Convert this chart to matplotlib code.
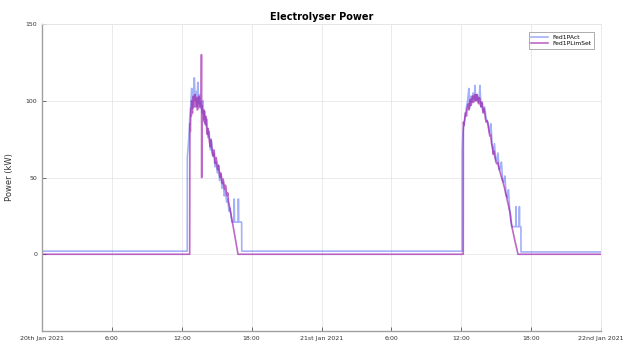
import matplotlib
matplotlib.use("Agg")
import matplotlib.pyplot as plt

# hours since 20th Jan 2021 00:00
act_hours = [0, 12.47, 12.48, 12.6, 12.7, 12.78, 12.85, 12.92, 13.0, 13.08, 13.15,
             13.22, 13.3, 13.38, 13.45, 13.52, 13.6, 13.68, 13.75, 13.82, 13.9,
             13.98, 14.05, 14.15, 14.25, 14.35, 14.45, 14.55, 14.65, 14.75, 14.85,
             14.95, 15.05, 15.15, 15.25, 15.35, 15.45, 15.55, 15.65, 15.75, 15.85,
             15.95, 16.05, 16.15, 16.25, 16.3, 16.48, 16.5, 16.53, 16.84, 16.86,
             16.89, 17.14, 17.15,
             36.08, 36.09, 36.15, 36.25, 36.35, 36.45, 36.55, 36.65, 36.7, 36.8,
             36.9, 37.0, 37.1, 37.18, 37.25, 37.35, 37.45, 37.55, 37.6, 37.7,
             37.8, 37.9, 38.0, 38.15, 38.3, 38.45, 38.55, 38.65, 38.75, 38.85,
             38.95, 39.05, 39.15, 39.25, 39.35, 39.45, 39.55, 39.65, 39.75, 39.85,
             39.95, 40.05, 40.15, 40.25, 40.33, 40.68, 40.7, 40.72, 40.97, 40.99,
             41.01, 41.12, 41.13, 48]
act_kw = [2, 2, 63, 75, 90, 98, 108, 95, 105, 115, 100,
          106, 96, 112, 98, 104, 95, 99, 92, 100, 88,
          93, 84, 88, 76, 80, 68, 74, 64, 66, 57,
          60, 53, 58, 48, 52, 43, 47, 38, 41, 34,
          36, 28, 30, 24, 21, 21, 36, 21, 21, 36,
          21, 21, 2,
          2, 69, 80, 86, 91, 96, 100, 108, 95, 103,
          99, 105, 101, 110, 100, 104, 99, 103, 110, 96,
          99, 93, 96, 88, 86, 79, 85, 70, 66, 72,
          62, 61, 66, 55, 56, 60, 48, 47, 51, 38,
          37, 42, 30, 25, 18, 18, 31, 18, 18, 31,
          18, 18, 1.5, 1.5]

limset_hours = [0, 12.68, 12.7, 12.74, 12.78, 12.82, 12.85, 12.88, 12.92, 12.96,
                13.0, 13.04, 13.08, 13.12, 13.15, 13.19, 13.22, 13.26, 13.3, 13.34,
                13.38, 13.42, 13.45, 13.49, 13.52, 13.56, 13.6, 13.67, 13.69, 13.71,
                13.73, 13.78, 13.82, 13.86, 13.9, 13.95, 14.0, 14.05, 14.1, 14.15,
                14.2, 14.25, 14.3, 14.38, 14.45, 14.5, 14.55, 14.62, 14.7, 14.75,
                14.8, 14.85, 14.9, 14.95, 15.0, 15.05, 15.1, 15.15, 15.2, 15.25,
                15.3, 15.35, 15.4, 15.45, 15.5, 15.55, 15.6, 15.65, 15.7, 15.75,
                15.8, 15.85, 15.9, 15.95, 16.0, 16.05, 16.1, 16.15, 16.2, 16.3,
                16.55, 16.83,
                36.17, 36.18, 36.24, 36.3, 36.35, 36.4, 36.45, 36.5, 36.55, 36.6,
                36.65, 36.7, 36.75, 36.8, 36.85, 36.9, 36.95, 37.0, 37.05, 37.1,
                37.15, 37.2, 37.25, 37.3, 37.35, 37.4, 37.45, 37.5, 37.55, 37.6,
                37.65, 37.7, 37.75, 37.8, 37.85, 37.9, 37.95, 38.0, 38.08, 38.15,
                38.22, 38.3, 38.38, 38.45, 38.52, 38.6, 38.68, 38.75, 38.82, 38.9,
                38.98, 39.05, 39.12, 39.2, 39.28, 39.35, 39.42, 39.5, 39.58, 39.65,
                39.72, 39.8, 39.88, 39.95, 40.02, 40.1, 40.18, 40.25, 40.4, 40.6,
                40.87, 48]
limset_kw = [0, 0, 85, 80, 95, 90, 100, 94, 92, 98,
             103, 97, 96, 102, 104, 96, 97, 102, 101, 94,
             95, 101, 103, 96, 98, 102, 100, 96, 130, 50,
             97, 90, 92, 87, 94, 86, 85, 90, 87, 80,
             78, 82, 80, 73, 70, 75, 72, 66, 64, 68,
             66, 60, 59, 63, 61, 56, 55, 58, 56, 51,
             50, 53, 51, 47, 46, 49, 47, 43, 42, 45,
             43, 39, 38, 40, 35, 33, 31, 29, 27, 23,
             12, 0,
             0, 86, 84, 88, 92, 92, 90, 95, 97, 98,
             94, 96, 100, 101, 97, 99, 103, 103, 99, 100,
             104, 104, 100, 101, 104, 103, 99, 98, 102, 101,
             97, 96, 99, 97, 93, 92, 95, 93, 88, 86,
             87, 84, 80, 77, 78, 72, 70, 65, 67, 63,
             60, 59, 60, 57, 55, 53, 51, 49, 47, 45,
             43, 40, 38, 35, 33, 30, 27, 22, 16, 9,
             0, 0]

tick_hours = [0, 6, 12, 18, 24, 30, 36, 42, 48]
tick_labels = ["20th Jan 2021", "6:00", "12:00", "18:00", "21st Jan 2021",
               "6:00", "12:00", "18:00", "22nd Jan 2021"]

fig = plt.figure(figsize=(6.3, 3.43), dpi=100)
ax = fig.add_axes([0.0667, 0.035, 0.8873, 0.895])

ax.plot(act_hours, act_kw, color="#4a62f0", alpha=0.5, lw=1.2, label="Fed1PAct")
ax.plot(limset_hours, limset_kw, color="#9a18a8", alpha=0.65, lw=1.2, label="Fed1PLimSet")

ax.set_xlim(0, 48)
ax.set_ylim(-50, 150)
ax.set_yticks([0, 50, 100, 150])
ax.set_xticks(tick_hours)
ax.set_xticklabels(tick_labels)
ax.tick_params(axis="both", direction="in", labelsize=4.5, labelcolor="#333333",
               color="#555555", length=3, width=0.6)
ax.grid(True, color="#e6e6e6", lw=0.6)
ax.set_axisbelow(True)

for side in ["top", "right"]:
    ax.spines[side].set_color("#e6e6e6")
    ax.spines[side].set_linewidth(0.6)
for side in ["left", "bottom"]:
    ax.spines[side].set_color("#a0a0a0")
    ax.spines[side].set_linewidth(1.0)

ax.set_ylabel("Power (kW)", fontsize=6, color="#333333", labelpad=8)
ax.set_title("Electrolyser Power", fontsize=7, fontweight="bold", pad=3)

leg = ax.legend(loc="upper right", fontsize=4.3, frameon=True, fancybox=False,
                borderpad=0.4, handlelength=2.8, labelspacing=0.2,
                bbox_to_anchor=(0.993, 0.983))
leg.get_frame().set_edgecolor("#888888")
leg.get_frame().set_linewidth(0.6)

fig.savefig("out.png", dpi=100)
